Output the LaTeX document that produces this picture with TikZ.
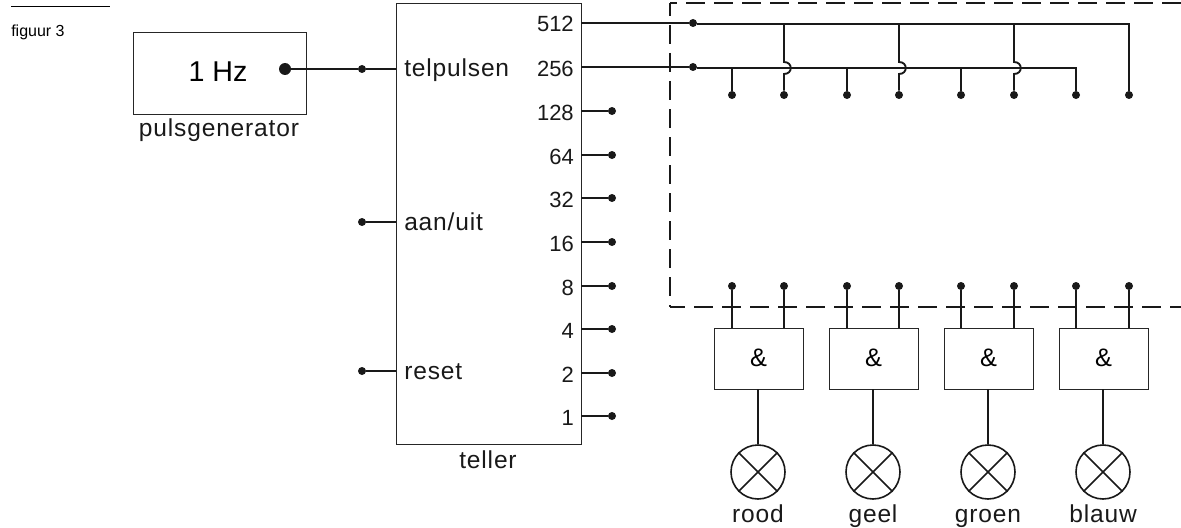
\documentclass[tikz,border=0pt]{standalone}
\usepackage{fontspec}
\setmainfont[LetterSpace=3.4]{Liberation Sans}
\newfontfamily\plainfont{Liberation Sans}
\begin{document}
\begin{tikzpicture}[x=0.75pt,y=-0.75pt,
  txt/.style={font=\fontsize{18.4pt}{20pt}\selectfont,inner sep=0pt,text=black!90,anchor=base},
  num/.style={font=\plainfont\fontsize{16.5pt}{20pt}\selectfont,inner sep=0pt,text=black!90,anchor=base east},
  box/.style={draw=black!85,line width=0.9pt,inner sep=0pt,anchor=north west},
  wire/.style={draw=black!90,line width=1.4pt},
  thick wire/.style={draw=black!90,line width=1.9pt},
  dot/.style={circle,fill=black!90,inner sep=0pt,minimum size=6pt},
  bigdot/.style={circle,fill=black!90,inner sep=0pt,minimum size=9pt},
  dashbox/.style={draw=black!90,line width=2pt},
  lamp/.style={circle,draw=black!90,line width=1.2pt,minimum size=40.5pt,inner sep=0pt}]
\useasboundingbox (0,0) rectangle (1181,528);
% header
\coordinate (ruleL) at (11,7);
\coordinate (ruleR) at (110,7);
\draw[draw=black,line width=0.75pt] (ruleL) -- (ruleR);
\node[anchor=base west,inner sep=0pt,font=\plainfont\fontsize{12pt}{14pt}\selectfont] (fig) at (11,37) {figuur 3};
% dashed enclosure
\coordinate (dTR) at (1181,3);
\coordinate (dTL) at (670,3);
\coordinate (dBL) at (670,307);
\coordinate (dBR) at (1181,307);
\draw[dashbox,dash pattern=on 14.2pt off 6.8pt,dash phase=9pt] (dTL) -- (dTR);
\draw[dashbox,dash pattern=on 14.2pt off 6.8pt,dash phase=4.5pt] (dTL) -- (dBL);
\draw[dashbox,dash pattern=on 14.2pt off 6.8pt,dash phase=3pt] (dBL) -- (dBR);
% pulse generator
\node[box,minimum width=129.5pt,minimum height=61.5pt] (gen) at (133,32) {};
\node[inner sep=0pt,anchor=base,font=\plainfont\fontsize{21.5pt}{26pt}\selectfont] (hz) at (218,81) {1 Hz};
\node[txt] (genlab) at (219,136) {pulsgenerator};
\node[bigdot] (gdot) at (285,69) {};
% counter
\node[box,minimum width=138.75pt,minimum height=330.75pt] (teller) at (396,3) {};
\node[txt] (tellab) at (488,468) {teller};
\node[dot] (tp) at (362,69) {};
\coordinate (tpin) at (396,69);
\draw[thick wire] (gdot) -- (tp) -- (tpin);
\node[txt,anchor=base west] (tpl) at (404,77) {telpulsen};
\node[dot] (au) at (362,222) {};
\coordinate (auin) at (396,222);
\draw[wire] (au) -- (auin);
\node[txt,anchor=base west] (aul) at (404,230) {aan/uit};
\node[dot] (re) at (362,371) {};
\coordinate (rein) at (396,371);
\draw[wire] (re) -- (rein);
\node[txt,anchor=base west] (rel) at (404,379) {reset};
% outputs
\foreach \n/\y in {128/111,64/155,32/198,16/242,8/286,4/329,2/373,1/416}{
  \node[num] (l\n) at (574,\y+9) {\n};
  \node[dot] (o\n) at (612,\y) {};
  \coordinate (s\n) at (581,\y);
  \draw[wire] (s\n) -- (o\n);
}
\node[num] (l512) at (574,32) {512};
\node[num] (l256) at (574,76) {256};
\coordinate (s512) at (581,23);
\coordinate (s256) at (581,67);
\node[dot] (a512) at (693,23) {};
\node[dot] (a256) at (693,67) {};
\coordinate (e512) at (1129,24);
\coordinate (e256) at (1076,68);
\node[dot] (t8) at (1129,95) {};
\node[dot] (t7) at (1076,95) {};
\draw[wire] (s512) -- (a512);
\draw[wire] (s256) -- (a256);
\draw[wire] (a512.east |- e512) -- (e512) -- (t8);
\draw[wire] (a256.east |- e256) -- (e256) -- (t7);
% 256 branches
\foreach \i/\x in {1/732,3/847,5/961}{
  \node[dot] (t\i) at (\x,95) {};
  \coordinate (j\i) at (\x,68);
  \draw[wire] (j\i) -- (t\i);
}
% 512 branches with hops
\foreach \i/\x in {2/784,4/899,6/1014}{
  \node[dot] (t\i) at (\x,95) {};
  \coordinate (j\i) at (\x,24);
  \coordinate (ha\i) at (\x,62);
  \coordinate (hb\i) at (\x,74);
  \draw[wire] (j\i) -- (ha\i) .. controls (\x+9,62) and (\x+9,74) .. (hb\i) -- (t\i);
}
% gates and lamps
\foreach \g/\x/\a/\b/\name in {1/714/732/784/rood,2/829/847/899/geel,3/944/961/1014/groen,4/1059/1076/1129/blauw}{
  \node[box,minimum width=66.75pt,minimum height=45.75pt] (g\g) at (\x,328) {};
  \node[inner sep=0pt,anchor=base,font=\plainfont\fontsize{19pt}{22pt}\selectfont] (amp\g) at (\x+44.5,366) {\&};
  \node[dot] (ia\g) at (\a,286) {};
  \node[dot] (ib\g) at (\b,286) {};
  \coordinate (pa\g) at (\a,328);
  \coordinate (pb\g) at (\b,328);
  \draw[wire] (ia\g) -- (pa\g);
  \draw[wire] (ib\g) -- (pb\g);
  \node[lamp] (L\g) at (\x+44,472) {};
  \coordinate (out\g) at (\x+44,389);
  \draw[wire] (out\g) -- (L\g.north);
  \draw[draw=black!90,line width=1.2pt] (L\g.north west) -- (L\g.south east);
  \draw[draw=black!90,line width=1.2pt] (L\g.north east) -- (L\g.south west);
  \node[txt] (n\g) at (\x+44,522) {\name};
}
\end{tikzpicture}
\end{document}
